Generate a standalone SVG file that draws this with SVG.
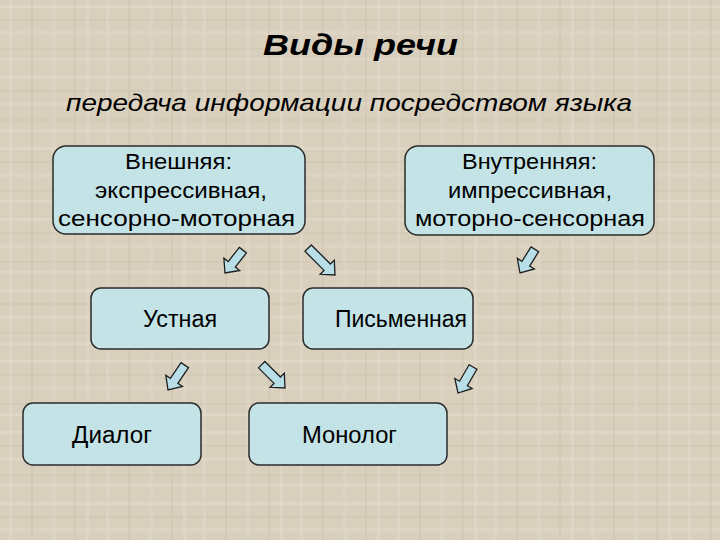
<svg xmlns="http://www.w3.org/2000/svg" width="720" height="540" viewBox="0 0 720 540">
<defs>
<style>
.box{fill:#c4e3e6;stroke:#2b2b2b;stroke-width:1.5}
.t{font-family:"Liberation Sans",Arial,sans-serif;font-size:22px;fill:#000;text-anchor:start}
.s{font-size:23px}
.arr{fill:#b8dfe8;stroke:#1e1e1e;stroke-width:1.3;stroke-linejoin:miter}
</style>
<pattern id="tex" width="97" height="71" patternUnits="userSpaceOnUse">
<rect width="97" height="71" fill="#d8cfbd"/>
<rect x="0" y="5" width="97" height="3" fill="#e6dfd0" opacity="0.45"/>
<rect x="0" y="19" width="97" height="2" fill="#c8bea9" opacity="0.3"/>
<rect x="0" y="31" width="97" height="4" fill="#e4ddce" opacity="0.4"/>
<rect x="0" y="48" width="97" height="2" fill="#cbc1ad" opacity="0.3"/>
<rect x="0" y="58" width="97" height="3" fill="#e5ded0" opacity="0.4"/>
<rect x="9" y="0" width="3" height="71" fill="#e4ddcf" opacity="0.35"/>
<rect x="31" y="0" width="2" height="71" fill="#c6bca8" opacity="0.3"/>
<rect x="52" y="0" width="4" height="71" fill="#e2dbcc" opacity="0.35"/>
<rect x="74" y="0" width="2" height="71" fill="#c9bfab" opacity="0.3"/>
<rect x="86" y="0" width="3" height="71" fill="#e6dfd1" opacity="0.35"/>
</pattern>
</defs>
<rect width="720" height="540" fill="url(#tex)"/>
<text x="263" y="55" font-family="'Liberation Sans',Arial,sans-serif" font-size="29" font-weight="bold" font-style="italic" textLength="195" lengthAdjust="spacingAndGlyphs">Виды речи</text>
<text x="66" y="111" font-family="'Liberation Sans',Arial,sans-serif" font-size="24" font-style="italic" textLength="566" lengthAdjust="spacingAndGlyphs">передача информации посредством языка</text>
<g id="n-external">
<rect class="box" x="53" y="146" width="252" height="88" rx="13"/>
<text class="t" x="125" y="169" textLength="107" lengthAdjust="spacingAndGlyphs">Внешняя:</text>
<text class="t" x="95" y="198" textLength="172" lengthAdjust="spacingAndGlyphs">экспрессивная,</text>
<text class="t" x="58" y="226" textLength="237" lengthAdjust="spacingAndGlyphs">сенсорно-моторная</text>
</g>
<g id="n-internal">
<rect class="box" x="405" y="146" width="249" height="89" rx="13"/>
<text class="t" x="462" y="169" textLength="135" lengthAdjust="spacingAndGlyphs">Внутренняя:</text>
<text class="t" x="448" y="198" textLength="164" lengthAdjust="spacingAndGlyphs">импрессивная,</text>
<text class="t" x="415" y="226" textLength="230" lengthAdjust="spacingAndGlyphs">моторно-сенсорная</text>
</g>
<g id="n-oral">
<rect class="box" x="91" y="288" width="178" height="61" rx="10"/>
<text class="t s" x="143" y="327" textLength="74" lengthAdjust="spacingAndGlyphs">Устная</text>
</g>
<g id="n-written">
<rect class="box" x="303" y="288" width="170" height="61" rx="10"/>
<text class="t s" x="335" y="327" textLength="132" lengthAdjust="spacingAndGlyphs">Письменная</text>
</g>
<g id="n-dialog">
<rect class="box" x="23" y="403" width="178" height="62" rx="10"/>
<text class="t s" x="72" y="443" textLength="80" lengthAdjust="spacingAndGlyphs">Диалог</text>
</g>
<g id="n-monolog">
<rect class="box" x="249" y="403" width="198" height="62" rx="10"/>
<text class="t s" x="302" y="443" textLength="95" lengthAdjust="spacingAndGlyphs">Монолог</text>
</g>
<g id="connectors">
<polygon class="arr" transform="translate(225,273) rotate(38)" points="-4.5,-29 4.5,-29 4.5,-11 10,-11 0,0 -10,-11 -4.5,-11"/>
<polygon class="arr" transform="translate(335,275) rotate(-45)" points="-4.5,-38 4.5,-38 4.5,-11 10,-11 0,0 -10,-11 -4.5,-11"/>
<polygon class="arr" transform="translate(520,273) rotate(32)" points="-4.5,-28 4.5,-28 4.5,-11 10,-11 0,0 -10,-11 -4.5,-11"/>
<polygon class="arr" transform="translate(168,390) rotate(34)" points="-4.5,-30 4.5,-30 4.5,-11 10,-11 0,0 -10,-11 -4.5,-11"/>
<polygon class="arr" transform="translate(285,388) rotate(-45)" points="-4.5,-33 4.5,-33 4.5,-11 10,-11 0,0 -10,-11 -4.5,-11"/>
<polygon class="arr" transform="translate(458,393) rotate(30)" points="-4.5,-30 4.5,-30 4.5,-11 10,-11 0,0 -10,-11 -4.5,-11"/>
</g>
</svg>
